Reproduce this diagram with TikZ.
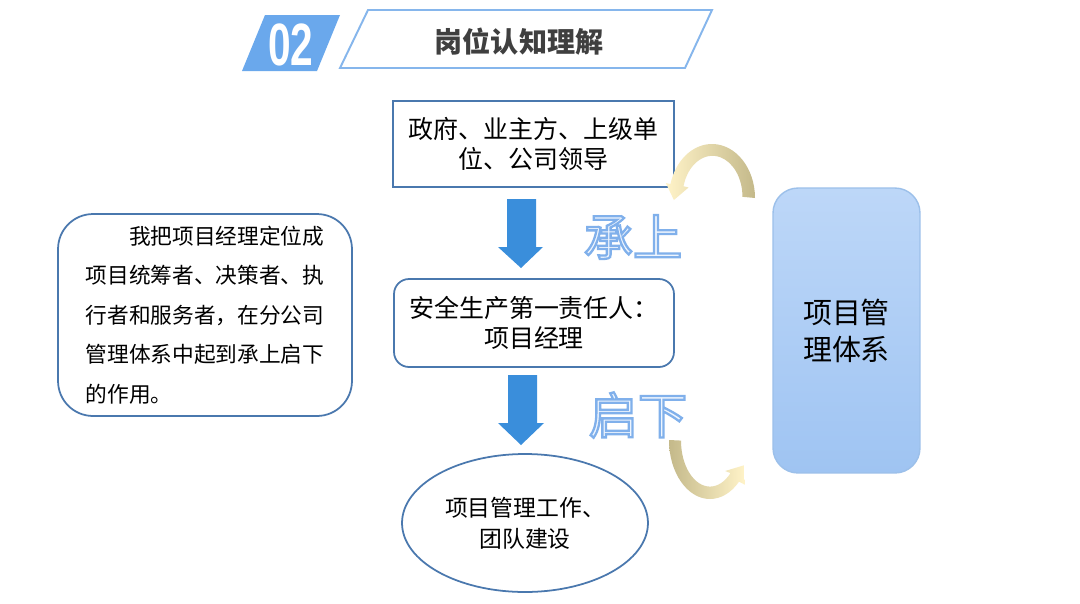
\documentclass[tikz,border=0pt]{standalone}
\usepackage{graphicx}
\usepackage{fontspec}
\setmainfont{Liberation Sans}
\newfontfamily\cjk{Noto Sans CJK SC}
\usetikzlibrary{calc,shapes.geometric}
\definecolor{hdr}{HTML}{6AA8EC}
\definecolor{ttlline}{HTML}{86B6EC}
\definecolor{ttltext}{HTML}{3F3F3F}
\definecolor{boxline}{HTML}{4A78AE}
\definecolor{arrowblue}{HTML}{3A8EDB}
\definecolor{sysTop}{HTML}{BDD7F8}
\definecolor{sysBot}{HTML}{9FC4F2}
\definecolor{sysLine}{HTML}{9CC0EA}
\definecolor{glowin}{HTML}{EEF5FE}
\definecolor{tanc}{HTML}{C4B98A}
\definecolor{palec}{HTML}{FFF3C8}
\tikzset{
  boxtext/.style={font=\cjk\fontsize{14.2}{17}\selectfont, align=center, text=black},
  flowbox/.style={draw=boxline, line width=1pt, fill=white, boxtext},
  blockarrow/.style={fill=arrowblue},
  glowfont/.style={font=\cjk\fontsize{28}{28}\selectfont, inner sep=0pt},
}
% outlined text: pale fill, blue stroke (PDF text render mode 2)
\newcommand\outlined[1]{{\color{glowin}\special{pdf:literal direct 0.50 0.69 0.92 RG 1.3 w 2 Tr}#1\special{pdf:literal direct 0 Tr}}}
\begin{document}
\begin{tikzpicture}[x=0.02cm,y=-0.02cm]
\useasboundingbox (0,0) rectangle (1080,603);
\fill[white] (0,0) rectangle (1080,603);

% header
\fill[hdr] (265,15) -- (340,15) -- (317,71) -- (242,71) -- cycle;
\node[text=white, font=\bfseries\fontsize{34}{34}\selectfont, inner sep=0pt] (num) at (291,45) {\scalebox{0.68}[1]{02}};
\draw[ttlline, line width=1.1pt, fill=white] (368,10) -- (712,10) -- (685,68) -- (340,68) -- cycle;
\node[font=\cjk\bfseries\fontsize{16}{16}\selectfont, text=ttltext] (title) at (519,42) {岗位认知理解};

% flow boxes
\node[flowbox, minimum width=5.62cm, minimum height=1.72cm] (b1) at (533.5,144) {政府、业主方、上级单\\位、公司领导};
\node[flowbox, rounded corners=0.3cm, minimum width=5.6cm, minimum height=1.76cm] (b2) at (534,323) {安全生产第一责任人：\\项目经理};
\node[draw=boxline, line width=1pt, fill=white, ellipse, minimum width=4.92cm, minimum height=2.76cm, font=\cjk\fontsize{13}{17.6}\selectfont, align=center] (b3) at (525,523) {项目管理工作、\\团队建设};

% block arrows
\fill[blockarrow] (507,199) -- (536,199) -- (536,247) -- (543,247) -- (521,268) -- (498,247) -- (507,247) -- cycle;
\fill[blockarrow] (508,375) -- (537,375) -- (537,423) -- (544,423) -- (521,445) -- (498,423) -- (508,423) -- cycle;

% left description
\node[draw=boxline, line width=1pt, fill=white, rounded corners=0.7cm, minimum width=5.88cm, minimum height=4.04cm,
      font=\cjk\fontsize{12.35}{22.5}\selectfont, align=left] (desc) at (205,315)
 {\hspace*{2em}我把项目经理定位成\\项目统筹者、决策者、执\\行者和服务者，在分公司\\管理体系中起到承上启下\\的作用。};

% right system box
\node[draw=sysLine, line width=0.8pt, top color=sysTop, bottom color=sysBot, rounded corners=0.5cm,
      minimum width=2.94cm, minimum height=5.7cm, font=\cjk\fontsize{16.5}{21}\selectfont, align=center] (sys) at (846.5,330.5)
 {项目管\\理体系};

% outlined labels
\node[glowfont] (cs) at (633,237) {\outlined{承上}};
\node[glowfont] (qx) at (638,415) {\outlined{启下}};

% curved arrows
\shade[left color=palec, right color=tanc]
  (755,198) arc[start angle=0, end angle=-165, x radius=43, y radius=54]
  -- (665.9,183.1) -- (673.9,200) -- (688.5,187.5) -- (683.5,186.2)
  arc[start angle=-165, end angle=0, x radius=30, y radius=41] -- cycle;
\shade[left color=tanc, right color=palec]
  (669,440) arc[start angle=180, end angle=45, x radius=41, y radius=59]
  -- (744.9,484.7) -- (744.3,465.2) -- (725.2,471.0) -- (730.5,473.1)
  arc[start angle=45, end angle=180, x radius=29, y radius=46] -- cycle;
\end{tikzpicture}
\end{document}
